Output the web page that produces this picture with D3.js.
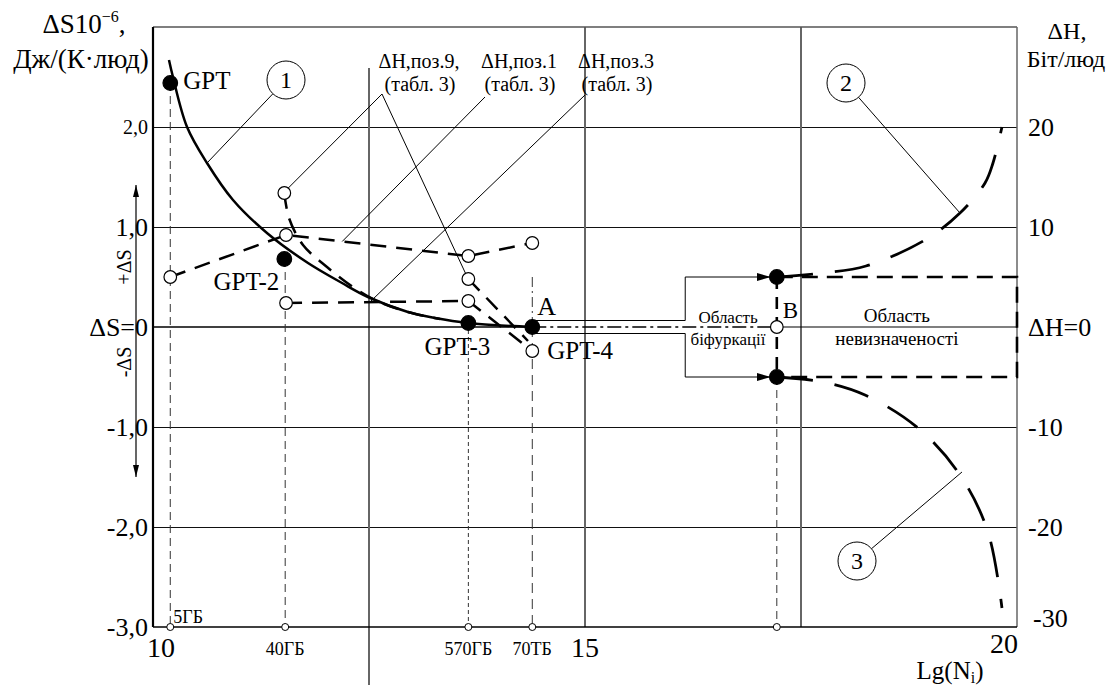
<!DOCTYPE html>
<html>
<head>
<meta charset="utf-8">
<script src="https://cdn.jsdelivr.net/npm/d3@7"></script>
<style>
  body { margin: 0; background: #fff; }
  text { font-family: "Liberation Serif", "DejaVu Serif", serif; fill: #000; }
</style>
</head>
<body>
<div id="chart"></div>
<script>
// Values. x = Lg(Ni), dS in 10^-6 J/(K*person) (left), dH in bit/person (right).
var sizeLabels = ["5ГБ", "40ГБ", "570ГБ", "70ТБ"];
var sizeLg = [10.2, 11.53, 13.65, 14.39];
var bifLg = 17.22;
var bifBoxLg = 16.16;

var xTicks = [10, 15, 20];
var xGrid = [12.5, 15, 17.5];
var dsTicks = [2, 1, 0, -1, -2, -3];
var dsTickLabels = ["2,0", "1,0", "ΔS=0", "-1,0", "-2,0", "-3,0"];
var dhTicks = [20, 10, 0, -10, -20, -30];
var dhTickLabels = ["20", "10", "ΔH=0", "-10", "-20", "-30"];

// Curve 1 (dS, left axis)
var curve1 = [[10.185, 2.67], [10.231, 2.50], [10.394, 2.00], [10.625, 1.64], [10.926, 1.27],
  [11.319, 0.94], [11.794, 0.64], [12.188, 0.44], [12.488, 0.30], [12.951, 0.15],
  [13.264, 0.09], [13.646, 0.04], [14.387, 0.0]];

// GPT models (filled points, left axis)
var gptNames = ["GPT", "GPT-2", "GPT-3", "GPT-4"];
var gptLg = [10.2, 11.52, 13.65, 14.39];
var gptDS = [2.44, 0.68, 0.04, 0.0];

// dH series (open points, right axis)
var poz1 = [[10.2, 5.0], [11.54, 9.2], [13.65, 7.1], [14.39, 8.4]];
var poz3 = [[11.54, 2.4], [13.65, 2.6], [14.39, -2.4]];
var poz9 = [[13.65, 4.8], [14.34, -1.4]];
var poz9Start = [11.52, 13.4];
var poz9Trend = [[11.52, 13.4], [11.574, 10.9], [11.736, 8.2], [12.014, 6.0], [12.315, 4.0],
  [12.569, 2.7], [12.951, 1.5], [13.322, 0.8]];

// Curves 2 and 3 (dH, right axis) after the bifurcation
var bifDH = [5, -5];
var curve2 = [[17.222, 5.0], [17.755, 5.4], [18.252, 6.1], [18.935, 8.7], [19.340, 11.4],
  [19.630, 14.4], [19.722, 16.4], [19.826, 20.0]];
var curve3 = [[17.222, -5.0], [17.755, -5.5], [18.241, -6.8], [18.854, -10.1], [19.340, -14.8],
  [19.664, -20.5], [19.826, -28.1]];

var width = 1116,
    height = 686,
    margin = {top: 27, left: 153, bottom: 59, right: 99};

var svg = d3.select("#chart")
  .append("svg")
  .attr("width", width)
  .attr("height", height);

var x = d3.scaleLinear().domain([10, 20]).range([margin.left, width - margin.right]);
var yS = d3.scaleLinear().domain([-3, 3]).range([height - margin.bottom, margin.top]);
var yH = d3.scaleLinear().domain([-30, 30]).range([height - margin.bottom, margin.top]);

var x0 = x.range()[0], x1 = x.range()[1],
    yBot = yS.range()[0], yTop = yS.range()[1];

// Arrow markers
var defs = svg.append("defs");
defs.append("marker")
  .attr("id", "arrowSmall")
  .attr("viewBox", "0 0 12 6")
  .attr("refX", 12).attr("refY", 3)
  .attr("markerWidth", 12).attr("markerHeight", 6)
  .attr("markerUnits", "userSpaceOnUse")
  .attr("orient", "auto-start-reverse")
  .append("path").attr("d", "M0,0L12,3L0,6Z");
defs.append("marker")
  .attr("id", "arrowBig")
  .attr("viewBox", "0 0 14 8")
  .attr("refX", 14).attr("refY", 4)
  .attr("markerWidth", 14).attr("markerHeight", 8)
  .attr("markerUnits", "userSpaceOnUse")
  .attr("orient", "auto")
  .append("path").attr("d", "M0,0L14,4L0,8Z");

function hline(g, y, xa, xb) {
  return g.append("line").attr("x1", xa).attr("x2", xb).attr("y1", y).attr("y2", y);
}
function vline(g, xv, ya, yb) {
  return g.append("line").attr("x1", xv).attr("x2", xv).attr("y1", ya).attr("y2", yb);
}

// Grid
var grid = svg.append("g").attr("fill", "none").attr("shape-rendering", "crispEdges");
dsTicks.filter(d => d !== 0 && d !== -3).forEach(function (d) {
  hline(grid, yS(d) + 0.5, x0, x1).attr("stroke", "#111").attr("stroke-width", 1);
});
xGrid.forEach(function (d, i) {
  var ya = i === 0 ? yS(2.59) : yTop,
      yb = i === 0 ? yBot + 58 : yBot;
  vline(grid, x(d), ya, yb).attr("stroke", "#666").attr("stroke-width", 2);
});

// Frame
hline(svg, yTop, x0, x1).attr("stroke", "#555").attr("stroke-width", 1.5);
vline(svg, x1, yTop, yBot).attr("stroke", "#666").attr("stroke-width", 1.5);
hline(svg, yBot, x0, x1).attr("stroke", "#000").attr("stroke-width", 1.5);
vline(svg, x0, yTop, yBot).attr("stroke", "#000").attr("stroke-width", 2.2);

// dS = 0 line, broken between A and B
hline(svg, yS(0), x0, x(sizeLg[3])).attr("stroke", "#000").attr("stroke-width", 1.6);
hline(svg, yS(0), x(bifLg), x1).attr("stroke", "#000").attr("stroke-width", 1.2);

// Vertical drop lines to the size marks
var drops = svg.append("g").attr("stroke", "#333").attr("stroke-width", 1).attr("fill", "none");
vline(drops, x(sizeLg[0]), yS(gptDS[0]), yBot).attr("stroke-dasharray", "8,5");
vline(drops, x(sizeLg[1]), yS(gptDS[1]), yBot).attr("stroke-dasharray", "8,5");
vline(drops, x(sizeLg[2]), yS(gptDS[2]), yBot).attr("stroke-dasharray", "4,3");
vline(drops, x(sizeLg[3]), yS(0.5), yS(0)).attr("stroke-dasharray", "10,4,2,4");
vline(drops, x(sizeLg[3]), yS(0), yBot).attr("stroke-dasharray", "10,6");
vline(drops, x(bifLg), yH(bifDH[1]), yBot).attr("stroke-dasharray", "8,5");
vline(svg, x(bifLg), yH(bifDH[0]), yH(bifDH[1]))
  .attr("stroke", "#000").attr("stroke-width", 2.6).attr("stroke-dasharray", "12,8");

// Bifurcation channel and region box
var ch = 0.065;
var box = svg.append("g").attr("stroke", "#000").attr("stroke-width", 1).attr("fill", "none");
hline(box, yS(ch), x(sizeLg[3]), x(bifBoxLg));
hline(box, yS(-ch), x(sizeLg[3]), x(bifBoxLg));
vline(box, x(bifBoxLg), yH(bifDH[0]), yS(ch));
vline(box, x(bifBoxLg), yS(-ch), yH(bifDH[1]));
bifDH.forEach(function (d) {
  hline(box, yH(d), x(bifBoxLg), x(bifLg) - 6).attr("marker-end", "url(#arrowBig)");
});
hline(svg, yS(0), x(sizeLg[3]), x(bifLg))
  .attr("stroke", "#000").attr("stroke-width", 1.3).attr("stroke-dasharray", "14,4,3,4");

// Uncertainty region (thick dashed)
svg.append("path")
  .attr("d", "M" + x(bifLg) + "," + yH(bifDH[0]) + "H" + x(20) + "V" + yH(bifDH[1]) + "H" + x(bifLg))
  .attr("fill", "none").attr("stroke", "#000").attr("stroke-width", 2.6)
  .attr("stroke-dasharray", "16,9");

// Curves
var lineS = d3.line().x(d => x(d[0])).y(d => yS(d[1])).curve(d3.curveCatmullRom.alpha(0.5));
var lineH = d3.line().x(d => x(d[0])).y(d => yH(d[1]));
var curveH = d3.line().x(d => x(d[0])).y(d => yH(d[1])).curve(d3.curveCatmullRom.alpha(0.5));

svg.append("path").datum(curve1).attr("d", lineS)
  .attr("fill", "none").attr("stroke", "#000").attr("stroke-width", 2.5);

[poz1, poz3, poz9].forEach(function (s) {
  svg.append("path").datum(s).attr("d", lineH)
    .attr("fill", "none").attr("stroke", "#000").attr("stroke-width", 2.5)
    .attr("stroke-dasharray", "16,10");
});
svg.append("path").datum(poz9Trend).attr("d", curveH)
  .attr("fill", "none").attr("stroke", "#000").attr("stroke-width", 2.5)
  .attr("stroke-dasharray", "16,10");

[curve2, curve3].forEach(function (s) {
  svg.append("path").datum(s).attr("d", curveH)
    .attr("fill", "none").attr("stroke", "#000").attr("stroke-width", 2.8)
    .attr("stroke-dasharray", "36,22");
});

// Leader lines
var leaders = svg.append("g").attr("stroke", "#000").attr("stroke-width", 1);
function lead(xa, ya, xb, yb) {
  leaders.append("line").attr("x1", xa).attr("y1", ya).attr("x2", xb).attr("y2", yb);
}
function interp(s, i, lg) {
  var t = (lg - s[i][0]) / (s[i + 1][0] - s[i][0]);
  return s[i][1] + t * (s[i + 1][1] - s[i][1]);
}
lead(382, 94, x(poz9Start[0]) + 4, yH(poz9Start[1]) - 5);
lead(382, 94, x(poz9[0][0]) - 3, yH(poz9[0][1]) - 6);
lead(485, 97, x(12.19), yH(interp(poz1, 1, 12.19)));
lead(585, 95, x(12.51), yH(interp(poz3, 0, 12.51)));

// Numbered callouts
var callouts = [
  {num: "1", cx: 286, cy: 80, tx: x(curve1[3][0]), ty: yS(curve1[3][1])},
  {num: "2", cx: 846, cy: 83, tx: x(curve2[4][0]), ty: yH(curve2[4][1])},
  {num: "3", cx: 857, cy: 561, tx: x(curve3[4][0]) + 2, ty: yH(curve3[4][1]) - 3}
];
callouts.forEach(function (c) {
  var dx = c.tx - c.cx, dy = c.ty - c.cy, L = Math.hypot(dx, dy);
  lead(c.cx + dx / L * 19, c.cy + dy / L * 19, c.tx, c.ty);
  svg.append("circle").attr("cx", c.cx).attr("cy", c.cy).attr("r", 19)
    .attr("fill", "#fff").attr("stroke", "#000").attr("stroke-width", 1);
  svg.append("text").attr("x", c.cx).attr("y", c.cy).attr("dy", "0.35em")
    .attr("text-anchor", "middle").style("font-size", "24px").text(c.num);
});

// Left dS direction arrow
vline(svg, 136, yS(1.42), yS(-1.5))
  .attr("stroke", "#000").attr("stroke-width", 1.2)
  .attr("marker-start", "url(#arrowSmall)").attr("marker-end", "url(#arrowSmall)");
svg.append("text").attr("transform", "translate(131," + yS(0.6) + ") rotate(-90)")
  .attr("text-anchor", "middle").style("font-size", "20px").text("+ΔS");
svg.append("text").attr("transform", "translate(131," + yS(-0.35) + ") rotate(-90)")
  .attr("text-anchor", "middle").style("font-size", "20px").text("-ΔS");

// Points
var pts = svg.append("g").attr("stroke", "#000").attr("stroke-width", 1.2);
poz1.concat(poz3, [poz9[0]], [poz9Start]).forEach(function (d) {
  pts.append("circle").attr("cx", x(d[0])).attr("cy", yH(d[1])).attr("r", 6.3).attr("fill", "#fff");
});
pts.append("circle").attr("cx", x(bifLg)).attr("cy", yH(0)).attr("r", 6.3).attr("fill", "#fff");
gptLg.forEach(function (d, i) {
  pts.append("circle").attr("cx", x(d)).attr("cy", yS(gptDS[i])).attr("r", 7.3).attr("fill", "#000");
});
bifDH.forEach(function (d) {
  pts.append("circle").attr("cx", x(bifLg)).attr("cy", yH(d)).attr("r", 7.3).attr("fill", "#000");
});
sizeLg.concat([bifLg]).forEach(function (d) {
  pts.append("circle").attr("cx", x(d)).attr("cy", yBot).attr("r", 3.5)
    .attr("fill", "#fff").attr("stroke-width", 1);
});

// Point labels
var gptLabel = [
  {dx: 13, dy: 6, anchor: "start"},
  {dx: -5, dy: 31, anchor: "end"},
  {dx: -11, dy: 32, anchor: "middle"},
  {dx: 15, dy: 32, anchor: "start"}
];
gptNames.forEach(function (n, i) {
  svg.append("text")
    .attr("x", x(gptLg[i]) + gptLabel[i].dx).attr("y", yS(gptDS[i]) + gptLabel[i].dy)
    .attr("text-anchor", gptLabel[i].anchor).style("font-size", "25px").text(n);
});
svg.append("text").attr("x", x(sizeLg[3]) + 5).attr("y", yS(0) - 12)
  .style("font-size", "26px").text("A");
svg.append("text").attr("x", x(bifLg) + 6).attr("y", yS(0) - 9)
  .style("font-size", "23px").text("B");

// Region labels
var midBif = (x(bifBoxLg) + x(bifLg)) / 2 - 3,
    midUnc = (x(bifLg) + x(20)) / 2;
[["Область", 323], ["біфуркації", 345]].forEach(function (t) {
  svg.append("text").attr("x", midBif).attr("y", t[1]).attr("text-anchor", "middle")
    .style("font-size", "17px").text(t[0]);
});
[["Область", 322], ["невизначеності", 345]].forEach(function (t) {
  svg.append("text").attr("x", midUnc).attr("y", t[1]).attr("text-anchor", "middle")
    .style("font-size", "19px").text(t[0]);
});

// Annotations
[["ΔH,поз.9,", 419], ["ΔH,поз.1", 519], ["ΔH,поз.3", 616]].forEach(function (t) {
  svg.append("text").attr("x", t[1]).attr("y", 68).attr("text-anchor", "middle")
    .style("font-size", "20px").text(t[0]);
  svg.append("text").attr("x", t[1] + 1).attr("y", 91).attr("text-anchor", "middle")
    .style("font-size", "20px").text("(табл. 3)");
});

// Left axis ticks
dsTicks.forEach(function (d, i) {
  svg.append("text").attr("x", x0 - 5).attr("y", yS(d)).attr("dy", "0.36em")
    .attr("text-anchor", "end").style("font-size", d === 2 ? "20px" : "26px")
    .text(dsTickLabels[i]);
});
// Right axis ticks
dhTicks.forEach(function (d, i) {
  svg.append("text").attr("x", x1 + 11 + (d === -30 ? 5 : 0)).attr("y", yH(d) - (d === -30 ? 9 : 0))
    .attr("dy", "0.36em").style("font-size", "26px").text(dhTickLabels[i]);
});
// Bottom axis ticks
xTicks.forEach(function (d, i) {
  svg.append("text")
    .attr("x", i === 0 ? x(d) + 8 : (i === 2 ? x(d) + 1 : x(d)))
    .attr("y", i === 2 ? yBot + 26 : yBot + 30)
    .attr("text-anchor", i === 2 ? "end" : "middle")
    .style("font-size", "28px").text(d);
});
sizeLabels.forEach(function (s, i) {
  svg.append("text")
    .attr("x", i === 0 ? x(sizeLg[i]) + 3 : x(sizeLg[i]))
    .attr("y", i === 0 ? yBot - 4 : yBot + 28)
    .attr("text-anchor", i === 0 ? "start" : "middle")
    .style("font-size", "18px").text(s);
});

// Axis titles
var t1 = svg.append("text").attr("x", 84).attr("y", 33).attr("text-anchor", "middle")
  .style("font-size", "27px");
t1.append("tspan").text("ΔS10");
t1.append("tspan").attr("dy", -11).style("font-size", "16px").text("−6");
t1.append("tspan").attr("dy", 11).text(",");
svg.append("text").attr("x", 81).attr("y", 68).attr("text-anchor", "middle")
  .style("font-size", "27px").text("Дж/(К·люд)");

svg.append("text").attr("x", 1067).attr("y", 39).attr("text-anchor", "middle")
  .style("font-size", "24px").text("ΔH,");
svg.append("text").attr("x", 1066).attr("y", 67).attr("text-anchor", "middle")
  .style("font-size", "24px").text("Біт/люд");

var t2 = svg.append("text").attr("x", 950).attr("y", 679).attr("text-anchor", "middle")
  .style("font-size", "25px");
t2.append("tspan").text("Lg(N");
t2.append("tspan").attr("dy", 4).style("font-size", "16px").text("i");
t2.append("tspan").attr("dy", -4).text(")");
</script>
</body>
</html>
